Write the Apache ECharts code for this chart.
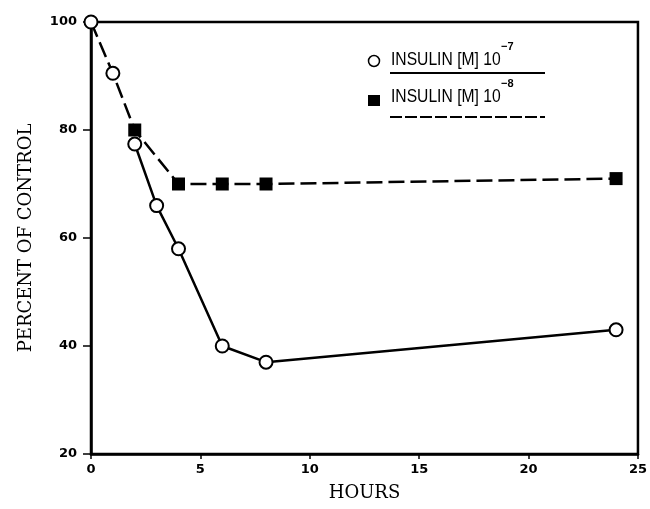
<!DOCTYPE html>
<html>
<head>
<meta charset="utf-8">
<script src="https://cdn.jsdelivr.net/npm/echarts@6/dist/echarts.min.js"></script>
<style>html,body{margin:0;padding:0;background:#fff}#c{width:650px;height:509px}</style>
</head>
<body>
<div id="c"></div>
<script>
// Data
const hoursA = [0, 1, 2, 3, 4, 6, 8, 24];
const insulin7 = [100, 90.5, 77.4, 66, 58, 40, 37, 43];      // INSULIN [M] 10^-7 (open circles)
const hoursB = [0, 1, 2, 4, 6, 8, 24];
const insulin8 = [100, 90.5, 80, 70, 70, 70, 71];            // INSULIN [M] 10^-8 (filled squares)
const xTicks = [0, 5, 10, 15, 20, 25];
const yTicks = [20, 40, 60, 80, 100];
const legendLabels = ['INSULIN [M] 10', 'INSULIN [M] 10'];
const legendExponents = ['\u22127', '\u22128'];
const xTitle = 'HOURS';
const yTitle = 'PERCENT OF CONTROL';

const ptsA = hoursA.map((h, i) => [h, insulin7[i]]);
const ptsB = hoursB.map((h, i) => [h, insulin8[i]]);
// the 10^-8 curve shares its first two points with the 10^-7 curve (drawn as circles)
const lineB = ptsB.map((p, i) => i < 2 ? {value: p, symbol: 'none'} : {value: p});
const lineA = ptsA.slice(2);

const chart = echarts.init(document.getElementById('c'), null, {renderer: 'canvas'});
const tickFont = {fontFamily: 'DejaVu Sans', fontWeight: 'bold', fontSize: 13, color: '#000'};
const titleFont = {fontFamily: 'DejaVu Serif', fontSize: 18, color: '#000'};
const legFont = 'Liberation Sans, Arial, sans-serif';

chart.setOption({
  animation: false,
  backgroundColor: '#fff',
  grid: {left: 91, top: 22, right: 10, bottom: 55, show: true, borderColor: '#000', borderWidth: 2.5, backgroundColor: 'transparent'},
  xAxis: {
    type: 'value', min: xTicks[0], max: xTicks[xTicks.length - 1], interval: 5,
    name: xTitle, nameLocation: 'middle', nameGap: 30, nameTextStyle: titleFont,
    axisLine: {show: true, lineStyle: {color: '#000', width: 2.5}},
    axisTick: {show: true, length: 5, lineStyle: {color: '#000', width: 1.5}},
    axisLabel: Object.assign({margin: 9}, tickFont),
    splitLine: {show: false}
  },
  yAxis: {
    type: 'value', min: yTicks[0], max: yTicks[yTicks.length - 1], interval: 20,
    name: yTitle, nameLocation: 'middle', nameGap: 56, nameTextStyle: titleFont,
    axisLine: {show: true, lineStyle: {color: '#000', width: 2.5}},
    axisTick: {show: true, length: 8, lineStyle: {color: '#000', width: 1.5}},
    axisLabel: Object.assign({margin: 14}, tickFont),
    splitLine: {show: false}
  },
  series: [
    {
      type: 'line', data: lineB, symbol: 'rect', symbolSize: 13,
      itemStyle: {color: '#000', opacity: 1},
      lineStyle: {color: '#000', width: 2.5, type: [16, 6]}, z: 2
    },
    {
      type: 'line', data: lineA, symbol: 'none',
      lineStyle: {color: '#000', width: 2.5}, z: 3
    },
    {
      type: 'scatter', data: ptsA, symbol: 'circle', symbolSize: 13,
      itemStyle: {color: '#fff', borderColor: '#000', borderWidth: 2, opacity: 1}, z: 4
    }
  ],
  graphic: [
    {type: 'circle', shape: {cx: 374, cy: 61, r: 5.5}, style: {fill: '#fff', stroke: '#000', lineWidth: 1.5}},
    {type: 'text', x: 391, y: 60, scaleX: 0.87, style: {text: legendLabels[0], font: '18px ' + legFont, fill: '#000', verticalAlign: 'middle'}},
    {type: 'text', x: 501, y: 47, style: {text: legendExponents[0], font: 'bold 11px ' + legFont, fill: '#000', verticalAlign: 'middle'}},
    {type: 'line', shape: {x1: 390, y1: 73, x2: 545, y2: 73}, style: {stroke: '#000', lineWidth: 2}},
    {type: 'rect', shape: {x: 368, y: 95, width: 12, height: 11}, style: {fill: '#000'}},
    {type: 'text', x: 391, y: 97, scaleX: 0.87, style: {text: legendLabels[1], font: '18px ' + legFont, fill: '#000', verticalAlign: 'middle'}},
    {type: 'text', x: 501, y: 84, style: {text: legendExponents[1], font: 'bold 11px ' + legFont, fill: '#000', verticalAlign: 'middle'}},
    {type: 'line', shape: {x1: 390, y1: 117, x2: 545, y2: 117}, style: {stroke: '#000', lineWidth: 2, lineDash: [12, 3]}}
  ]
});
</script>
</body>
</html>
